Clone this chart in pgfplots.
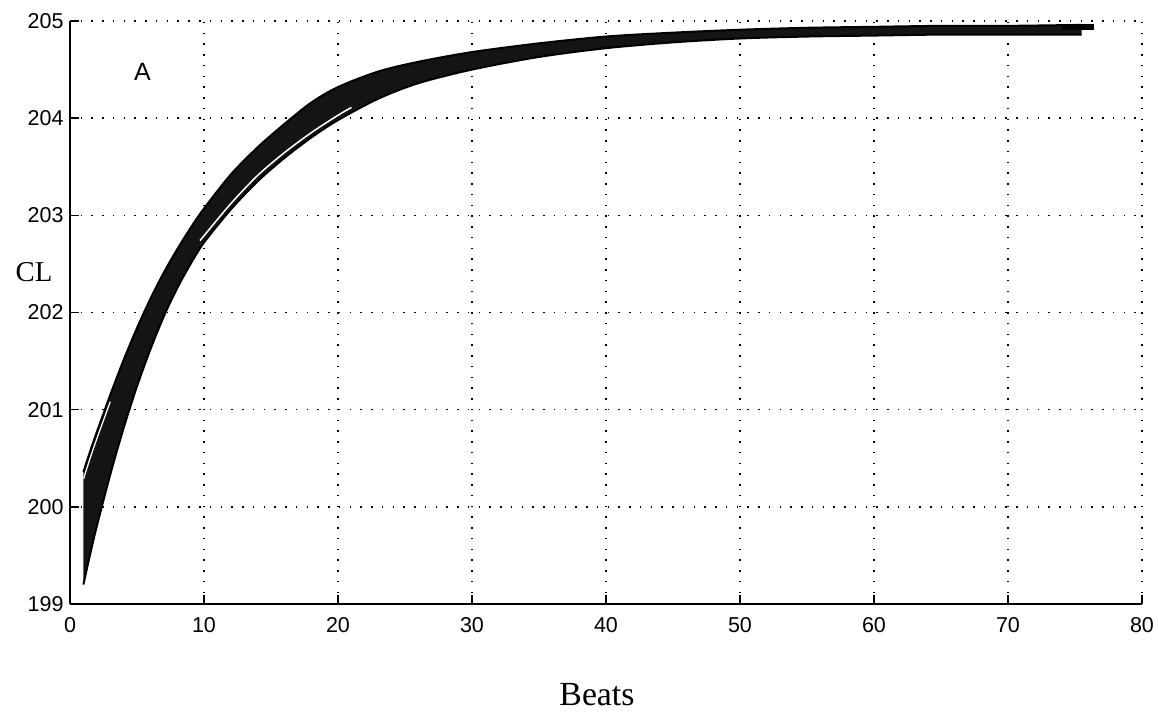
\documentclass[border=0pt]{standalone}
\usepackage{fontspec}
\setmainfont{Liberation Serif}
\newfontfamily\sansf{Liberation Sans}
\usepackage{pgfplots}
\pgfplotsset{compat=1.18}
\usepgfplotslibrary{fillbetween}
\begin{document}
\begin{tikzpicture}
\begin{axis}[
  at={(0pt,0pt)}, anchor=south west,
  scale only axis, width=428.8pt, height=233.2pt,
  xmin=0, xmax=80, ymin=199, ymax=205,
  xtick={0,10,...,80}, ytick={199,200,...,205},
  axis lines=left, axis line style={-, line width=0.7pt},
  tick align=inside, major tick length=3.6pt,
  tick style={black, line width=0.6pt},
  grid=major,
  major grid style={black, line width=0.6pt, dash pattern=on 0.6pt off 3.7pt},
  /pgf/number format/assume math mode=true,
  tick label style={font=\sansf\fontsize{8.6}{10}\selectfont},
  xticklabel style={anchor=north, inner sep=0pt, yshift=-5.2pt},
  yticklabel style={anchor=east, inner sep=0pt, xshift=-2.4pt},
  xlabel={Beats}, ylabel={CL},
  xlabel style={at={(axis description cs:0.4916,-0.1552)}, anchor=center, font=\fontsize{13.5}{16}\selectfont},
  ylabel style={at={(axis description cs:-0.0336,0.5695)}, anchor=center, rotate=-90, font=\fontsize{11.5}{14}\selectfont},
]
% upper edge of the band of curves
\addplot[name path=U, black, line width=0.8pt, smooth] coordinates {
(1,200.36) (1.5,200.57) (2,200.77) (2.5,200.96) (3,201.15) (4,201.51) (5,201.84)
(6,202.14) (7,202.41) (8,202.65) (9,202.87) (10,203.07) (12,203.42) (14,203.70)
(16,203.94) (18,204.16) (20,204.32) (23,204.48) (26,204.58) (30,204.68) (35,204.77)
(40,204.84) (45,204.88) (50,204.91) (55,204.93) (60,204.94) (65,204.95) (70,204.95) (75.5,204.96)};
% lower edge of the band of curves
\addplot[name path=L, black, line width=0.8pt, smooth] coordinates {
(1,199.20) (1.5,199.51) (2,199.80) (3,200.33) (4,200.81) (5,201.24) (6,201.62)
(7,201.96) (8,202.25) (9,202.50) (10,202.72) (12,203.06) (14,203.35) (16,203.59)
(18,203.80) (20,203.98) (23,204.20) (26,204.36) (30,204.50) (35,204.63) (40,204.72)
(45,204.78) (50,204.82) (55,204.84) (60,204.85) (65,204.86) (70,204.86) (75.5,204.86)};
\addplot[black!92] fill between[of=U and L];
% white gaps between single curves
\addplot[white, line width=0.6pt, smooth] coordinates {
(9.7,202.74) (10,202.79) (12,203.12) (14,203.41) (16,203.645) (18,203.85) (20,204.03) (21,204.11)};
\addplot[white, line width=0.5pt, smooth] coordinates {
(1.02,200.29) (1.5,200.50) (2,200.70) (2.5,200.89) (3,201.08)};
% the longest runs at the end
\addplot[black, line width=2.3pt] coordinates {(74,204.935) (76.4,204.935)};
\node[font=\sansf\fontsize{10}{12}\selectfont] at (axis cs:5.41,204.48) {A};
\end{axis}
\pgfresetboundingbox
\useasboundingbox (-28pt,-43.6pt) rectangle (435.2pt,241.6pt);
\end{tikzpicture}
\end{document}
